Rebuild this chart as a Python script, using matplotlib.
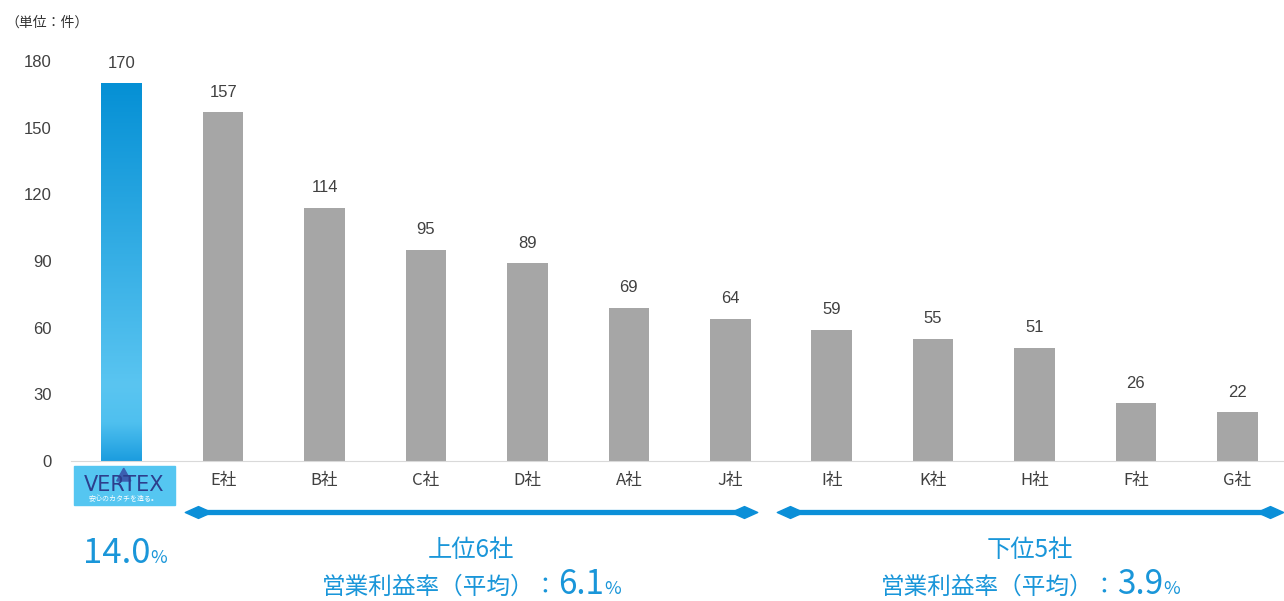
import numpy as np
import matplotlib
matplotlib.use("Agg")
import matplotlib.pyplot as plt
import matplotlib.transforms as mtransforms
from matplotlib.colors import LinearSegmentedColormap
from matplotlib.patches import Rectangle, Polygon
from matplotlib.path import Path

plt.rcParams['font.family'] = ['Liberation Sans', 'Noto Sans CJK JP', 'DejaVu Sans']

# データ
companies = ['VERTEX', 'E社', 'B社', 'C社', 'D社', 'A社', 'J社', 'I社', 'K社', 'H社', 'F社', 'G社']
counts = [170, 157, 114, 95, 89, 69, 64, 59, 55, 51, 26, 22]
yticks = [0, 30, 60, 90, 120, 150, 180]
unit_label = '（単位：件）'
vertex_rate = '14.0'
top_group = {'title': '上位6社', 'rate': '6.1', 'span': (0.63, 6.26)}
bottom_group = {'title': '下位5社', 'rate': '3.9', 'span': (6.47, 11.44)}

BLUE = '#1a96d9'
GRAY = '#a6a6a6'
TXT = '#404040'
JP = ['Noto Sans CJK JP', 'DejaVu Sans']

fig = plt.figure(figsize=(12.84, 6.01), dpi=100)
ax = fig.add_axes([0.0553, 0.2329, 0.9447, 0.6656])
x = np.arange(len(companies))
colors = ['none'] + [GRAY] * (len(companies) - 1)
bars = ax.bar(x, counts, width=0.4, color=colors, zorder=2)

# VERTEX はグラデーション
cmap = LinearSegmentedColormap.from_list(
    'vtx', [(0, '#1c9ddf'), (0.1, '#4fc0ef'), (0.2, '#5ac5f1'), (1, '#0590d5')])
b0 = bars[0]
grad = np.linspace(0, 1, 256).reshape(-1, 1)
im = ax.imshow(grad, cmap=cmap, origin='lower', aspect='auto', zorder=2,
               extent=[b0.get_x(), b0.get_x() + b0.get_width(), 0, b0.get_height()])
im.set_clip_path(b0)

ax.set_xlim(-0.5, 11.46)
ax.set_ylim(0, 180)
ax.set_yticks(yticks)
ax.set_xticks(x)
ax.set_xticklabels([''] + companies[1:], family=JP, fontsize=10.5, color='#222222')
ax.tick_params(axis='both', length=0, labelsize=12, colors=TXT)
ax.tick_params(axis='y', pad=14)
ax.tick_params(axis='x', pad=8)
for s in ['top', 'right', 'left']:
    ax.spines[s].set_visible(False)
ax.spines['bottom'].set_color('#d9d9d9')

for xi, v in zip(x, counts):
    ax.annotate(str(v), (xi, v), xytext=(0, 9), textcoords='offset points',
                ha='center', va='bottom', fontsize=12, color=TXT)

fig.text(0.004, 0.963, unit_label, family=JP, fontsize=10, color='#333333', va='center')

trans = mtransforms.blended_transform_factory(ax.transData, ax.transAxes)

# ロゴ
ax.add_patch(Rectangle((-0.475, -0.11), 1.0, 0.098, transform=trans,
                       color='#55c6f1', clip_on=False, zorder=3))
ax.add_patch(Polygon([(-0.05, -0.05), (0.02, -0.018), (0.09, -0.05)], closed=True,
                     transform=trans, color='#3b5fb0', clip_on=False, zorder=4))
ax.text(0.02, -0.06, 'VERTEX', transform=trans, ha='center', va='center',
        fontsize=15, color='#2d3e8c', family=['DejaVu Sans'], zorder=5)
ax.text(0.02, -0.094, '安心のカタチを造る。', transform=trans, ha='center', va='center',
        fontsize=5, color='white', family=JP, zorder=5)

# 矢印
diamond = Path([(-1, 0), (0, 0.45), (1, 0), (0, -0.45), (-1, 0)],
               [Path.MOVETO, Path.LINETO, Path.LINETO, Path.LINETO, Path.CLOSEPOLY])
arrow_y = -0.1275
inset = 0.12
for g in [top_group, bottom_group]:
    a, b = g['span']
    ax.plot([a + inset, b - inset], [arrow_y, arrow_y], transform=trans, color='#0b8fd8',
            lw=3.8, marker=diamond, markersize=19, clip_on=False, solid_capstyle='butt')


def place_pieces(xc, y, pieces):
    renderer = fig.canvas.get_renderer()
    texts = []
    for s, fs in pieces:
        t = ax.text(xc, y, s, transform=trans, fontsize=fs, color=BLUE,
                    family=JP, ha='left', va='baseline')
        texts.append(t)
    widths = [t.get_window_extent(renderer).width for t in texts]
    off = -sum(widths) / 2
    for t, w in zip(texts, widths):
        t.set_transform(mtransforms.offset_copy(trans, fig=fig, x=off, y=0, units='dots'))
        off += w


place_pieces(0.03, -0.255, [(vertex_rate, 25), ('%', 13)])
for g in [top_group, bottom_group]:
    mid = sum(g['span']) / 2
    place_pieces(mid, -0.24, [(g['title'], 17.5)])
    place_pieces(mid, -0.332, [('営業利益率（平均）：', 17), (g['rate'], 24), ('%', 13)])

fig.savefig('out.png', dpi=100)
